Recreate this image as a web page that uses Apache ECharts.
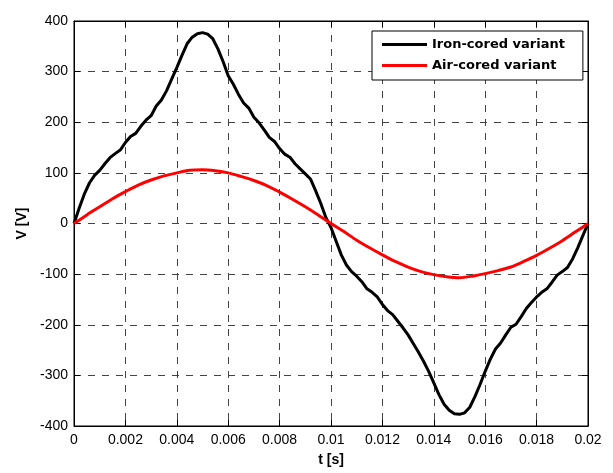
<!DOCTYPE html>
<html>
<head>
<meta charset="utf-8">
<title>V over t</title>
<script src="https://cdn.jsdelivr.net/npm/echarts@6/dist/echarts.min.js"></script>
<style>
  html, body { margin: 0; padding: 0; background: #fff; }
  #chart { width: 613px; height: 473px; }
</style>
</head>
<body>
<div id="chart"></div>
<script>
// values
const xTicks = [0, 0.002, 0.004, 0.006, 0.008, 0.01, 0.012, 0.014, 0.016, 0.018, 0.02]
const yTicks = [-400, -300, -200, -100, 0, 100, 200, 300, 400]

const ironT = [
  0, 0.0002, 0.0004, 0.0006, 0.0008, 0.001, 0.0012, 0.0014, 0.0016, 0.0018,
  0.002, 0.0022, 0.0024, 0.0026, 0.0028, 0.003, 0.0032, 0.0034, 0.0036, 0.0038,
  0.004, 0.0042, 0.0044, 0.0046, 0.0048, 0.005, 0.0052, 0.0054, 0.0056, 0.0058,
  0.006, 0.0062, 0.0064, 0.0066, 0.0068, 0.007, 0.0072, 0.0074, 0.0076, 0.0078,
  0.008, 0.0082, 0.0084, 0.0086, 0.0088, 0.009, 0.0092, 0.0094, 0.0096, 0.0098,
  0.01, 0.0102, 0.0104, 0.0106, 0.0108, 0.011, 0.0112, 0.0114, 0.0116, 0.0118,
  0.012, 0.0122, 0.0124, 0.0126, 0.0128, 0.013, 0.0132, 0.0134, 0.0136, 0.0138,
  0.014, 0.0142, 0.0144, 0.0146, 0.0148, 0.015, 0.0152, 0.0154, 0.0156, 0.0158,
  0.016, 0.0162, 0.0164, 0.0166, 0.0168, 0.017, 0.0172, 0.0174, 0.0176, 0.0178,
  0.018, 0.0182, 0.0184, 0.0186, 0.0188, 0.019, 0.0192, 0.0194, 0.0196, 0.0198,
  0.02
]
const ironV = [
  0, 30, 58, 80, 95, 105, 118, 130, 138, 145,
  160, 172, 178, 192, 204, 213, 232, 244, 262, 285,
  308, 332, 355, 368, 375, 377, 374, 365, 345, 320,
  292, 275, 255, 238, 228, 210, 199, 185, 170, 162,
  148, 137, 131, 118, 108, 98, 88, 65, 40, 12,
  -8, -35, -62, -82, -95, -104, -115, -129, -136, -145,
  -160, -172, -180, -193, -206, -220, -237, -254, -272, -292,
  -315, -338, -357, -369, -376, -377, -374, -363, -342, -318,
  -292, -268, -248, -236, -220, -205, -199, -184, -168, -156,
  -145, -136, -129, -116, -102, -95, -87, -70, -48, -24,
  0
]

const airT = [
  0, 0.0005, 0.001, 0.0015, 0.002, 0.0025, 0.003, 0.0035, 0.004, 0.0045,
  0.005, 0.0055, 0.006, 0.0065, 0.007, 0.0075, 0.008, 0.0085, 0.009, 0.0095,
  0.01, 0.0105, 0.011, 0.0115, 0.012, 0.0125, 0.013, 0.0135, 0.014, 0.0145,
  0.015, 0.0155, 0.016, 0.0165, 0.017, 0.0175, 0.018, 0.0185, 0.019, 0.0195,
  0.02
]
const airV = [
  0, 17, 33, 49, 63, 76, 86, 94, 100, 105,
  106, 104, 100, 93, 85, 75, 62, 48, 33, 17,
  0, -16, -33, -48, -62, -75, -86, -95, -101, -105,
  -107, -104, -99, -93, -86, -75, -63, -49, -34, -17,
  0
]

const zip = (xs, ys) => xs.map((x, i) => [x, ys[i]])

const fmt = (v) => String(parseFloat(Number(v).toFixed(4)))

const gridDash = { show: true, lineStyle: { color: '#444', type: [7, 7], width: 1 } }
const tickIn = { show: true, inside: true, length: 6, lineStyle: { color: '#000' } }
const nameStyle = { color: '#000', fontWeight: 'bold', fontSize: 14 }

const xRange = { min: xTicks[0], max: xTicks[xTicks.length - 1], interval: 0.002 }
const yRange = { min: yTicks[0], max: yTicks[yTicks.length - 1], interval: 100 }

const chart = echarts.init(document.getElementById('chart'))

chart.setOption({
  animation: false,
  backgroundColor: '#fff',
  textStyle: { fontFamily: 'Liberation Sans, Arial, sans-serif' },
  grid: {
    left: 74,
    right: 25,
    top: 21,
    bottom: 47,
    show: true,
    borderColor: '#000',
    borderWidth: 1,
    backgroundColor: '#fff'
  },
  legend: {
    orient: 'vertical',
    left: 372,
    top: 31,
    padding: [7, 18, 8, 10],
    itemGap: 8,
    itemWidth: 45,
    itemHeight: 3,
    icon: 'rect',
    borderColor: '#000',
    borderWidth: 1,
    backgroundColor: '#fff',
    borderRadius: 0,
    textStyle: {
      color: '#000',
      fontFamily: 'DejaVu Sans',
      fontWeight: 'bold',
      fontSize: 13
    },
    data: ['Iron-cored variant', 'Air-cored variant']
  },
  xAxis: [
    {
      type: 'value',
      ...xRange,
      name: 't [s]',
      nameLocation: 'middle',
      nameGap: 27,
      nameTextStyle: nameStyle,
      axisLine: { show: true, onZero: false, lineStyle: { color: '#000', width: 1 } },
      axisTick: tickIn,
      axisLabel: { color: '#000', fontSize: 14, margin: 7, formatter: fmt },
      splitLine: gridDash
    },
    {
      type: 'value',
      position: 'top',
      ...xRange,
      axisLine: { show: true, onZero: false, lineStyle: { color: '#000', width: 1 } },
      axisTick: tickIn,
      axisLabel: { show: false },
      splitLine: { show: false }
    }
  ],
  yAxis: [
    {
      type: 'value',
      ...yRange,
      name: 'V [V]',
      nameLocation: 'middle',
      nameGap: 44,
      nameTextStyle: nameStyle,
      axisLine: { show: true, onZero: false, lineStyle: { color: '#000', width: 1 } },
      axisTick: tickIn,
      axisLabel: { color: '#000', fontSize: 14, margin: 6 },
      splitLine: gridDash
    },
    {
      type: 'value',
      position: 'right',
      ...yRange,
      axisLine: { show: true, onZero: false, lineStyle: { color: '#000', width: 1 } },
      axisTick: tickIn,
      axisLabel: { show: false },
      splitLine: { show: false }
    }
  ],
  series: [
    {
      name: 'Iron-cored variant',
      type: 'line',
      data: zip(ironT, ironV),
      showSymbol: false,
      symbol: 'none',
      lineStyle: { color: '#000', width: 3 },
      itemStyle: { color: '#000' },
      z: 3
    },
    {
      name: 'Air-cored variant',
      type: 'line',
      data: zip(airT, airV),
      showSymbol: false,
      symbol: 'none',
      smooth: 0.3,
      lineStyle: { color: '#ff0000', width: 3 },
      itemStyle: { color: '#ff0000' },
      z: 4
    }
  ]
})
</script>
</body>
</html>
